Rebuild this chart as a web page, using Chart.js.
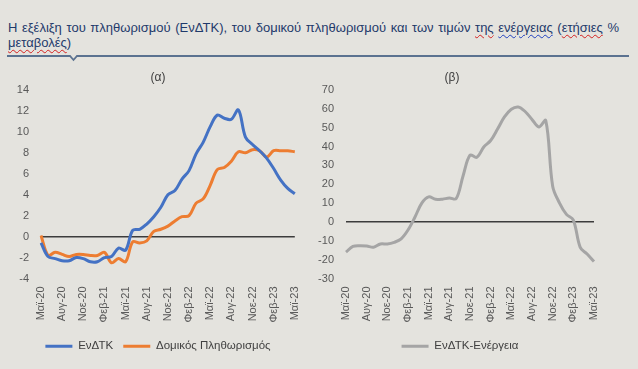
<!DOCTYPE html>
<html lang="el">
<head>
  <meta charset="UTF-8">
  <title>Πληθωρισμός και ενέργεια</title>
  <script src="https://cdn.jsdelivr.net/npm/chart.js"></script>
  <style>
    body { margin: 0; background: #e4e3de; font-family: "Liberation Sans", Arial, sans-serif; }
    #page { position: relative; width: 638px; height: 369px; overflow: hidden; background: #e4e3de; }
    .heading { position: absolute; left: 8px; top: 20px; font-size: 13px; word-spacing: 1px; line-height: 15px; color: #1f3a6b; white-space: nowrap; }
    .sq { text-decoration: underline wavy #d42020; text-decoration-thickness: 1px; text-underline-offset: 2px; }
    .sq.b { text-decoration-color: #2040c0; }
    .rule { position: absolute; left: 0; top: 50px; }
    .box { position: absolute; top: 62px; }
  </style>
</head>
<body>
<div id="page">
  <div class="heading">
    Η εξέλιξη του πληθωρισμού (ΕνΔΤΚ), του δομικού πληθωρισμού και των τιμών <span class="sq">της</span> <span class="sq b">ενέργειας</span> (<span class="sq">ετήσιες</span> %<br><span class="sq">μεταβολές</span>)
  </div>
  <svg class="rule" width="638" height="14">
    <polyline points="7,6 70,6 73.5,10 77,6 629,6" fill="none" stroke="#5b7290" stroke-width="1.8"/>
  </svg>
  <div class="box" style="left:0px"><canvas id="chartA" width="316" height="300"></canvas></div>
  <div class="box" style="left:310px"><canvas id="chartB" width="320" height="300"></canvas></div>
</div>

<script>
  // monthly, Μαϊ-20 .. Μαϊ-23
  const months = [
    "Μαϊ-20", "Ιουν-20", "Ιουλ-20", "Αυγ-20", "Σεπ-20", "Οκτ-20", "Νοε-20", "Δεκ-20",
    "Ιαν-21", "Φεβ-21", "Μαρ-21", "Απρ-21", "Μαϊ-21", "Ιουν-21", "Ιουλ-21", "Αυγ-21",
    "Σεπ-21", "Οκτ-21", "Νοε-21", "Δεκ-21", "Ιαν-22", "Φεβ-22", "Μαρ-22", "Απρ-22",
    "Μαϊ-22", "Ιουν-22", "Ιουλ-22", "Αυγ-22", "Σεπ-22", "Οκτ-22", "Νοε-22", "Δεκ-22",
    "Ιαν-23", "Φεβ-23", "Μαρ-23", "Απρ-23", "Μαϊ-23"
  ];

  const hicp = [
    -0.6, -1.9, -2.1, -2.3, -2.3, -2.0, -2.1, -2.4,
    -2.4, -2.0, -1.9, -1.1, -1.3, 0.6, 0.7, 1.2,
    1.9, 2.8, 4.0, 4.4, 5.5, 6.3, 7.9, 9.0,
    10.5, 11.6, 11.3, 11.2, 12.1, 9.5, 8.8, 8.2,
    7.5, 6.5, 5.4, 4.6, 4.1
  ];

  const core = [
    0.1, -1.8, -1.5, -1.7, -1.9, -1.7, -1.7, -1.8,
    -1.8, -1.5, -2.5, -2.1, -2.4, -0.5, -0.6, -0.4,
    0.5, 0.7, 1.0, 1.5, 1.9, 2.0, 3.2, 3.6,
    4.9, 6.4, 6.6, 7.2, 8.1, 8.0, 8.3, 8.2,
    7.6, 8.2, 8.2, 8.2, 8.1
  ];

  const energy = [
    -16.0, -13.0, -12.6, -12.8, -13.4, -11.7, -11.7, -10.8,
    -9.0, -4.3, 2.5, 10.0, 13.3, 12.0, 12.1, 12.7,
    12.4, 24.5, 35.4, 34.3, 39.8, 43.2, 49.3, 55.7,
    59.8, 61.0, 58.6, 54.4, 50.4, 53.8, 19.0, 10.0,
    4.0, 1.0, -13.5, -17.0, -21.0
  ];

  const ticksA = { min: -4, max: 14, step: 2 };
  const ticksB = { min: -30, max: 70, step: 10 };

  Chart.defaults.font.family = "'Liberation Sans', Arial, sans-serif";
  Chart.defaults.animation = false;

  // nudge the legend sideways so it sits under the plot like the original
  const legendShift = {
    id: 'legendShift',
    afterLayout(chart, args, opts) {
      const l = chart.legend;
      if (!l || !opts.dx) return;
      l.left += opts.dx;
      l.right += opts.dx;
    }
  };

  function lineSet(label, data, color) {
    return {
      label: label,
      data: data,
      borderColor: color,
      backgroundColor: color,
      borderWidth: 3,
      pointRadius: 0,
      tension: 0.35,
      fill: false
    };
  }

  function makeOptions(title, t, axisWidth, padR, dx) {
    return {
      responsive: false,
      layout: { padding: { right: padR } },
      plugins: {
        title: {
          display: true,
          text: title,
          color: '#404040',
          font: { size: 12, weight: 'normal' },
          padding: { top: 8, bottom: 5.6 }
        },
        legend: {
          position: 'bottom',
          labels: {
            usePointStyle: true,
            pointStyle: 'line',
            pointStyleWidth: 27,
            color: '#404040',
            font: { size: 11.5 },
            padding: 10
          }
        },
        legendShift: { dx: dx },
        tooltip: { enabled: false }
      },
      scales: {
        x: {
          offset: false,
          grid: { display: false, drawTicks: false },
          border: { display: false },
          ticks: {
            autoSkip: false,
            minRotation: 90,
            maxRotation: 90,
            padding: 8,
            color: '#595959',
            font: { size: 11 },
            callback: function (v, i) { return i % 3 === 0 ? this.getLabelForValue(v) : ''; }
          },
          afterFit: s => { s.height = 52; }
        },
        y: {
          min: t.min,
          max: t.max,
          border: { display: false },
          grid: {
            drawTicks: false,
            lineWidth: 1.4,
            color: c => c.tick.value === 0 ? '#3c3c3c' : 'rgba(0,0,0,0)'
          },
          ticks: { stepSize: t.step, padding: 12, color: '#595959', font: { size: 11 } },
          afterFit: s => { s.width = axisWidth; }
        }
      }
    };
  }

  new Chart(document.getElementById('chartA'), {
    type: 'line',
    data: {
      labels: months,
      datasets: [
        lineSet('ΕνΔΤΚ', hicp, '#4472c4'),
        lineSet('Δομικός Πληθωρισμός', core, '#ed7d31')
      ]
    },
    options: makeOptions('(α)', ticksA, 41, 0, 0),
    plugins: [legendShift]
  });

  new Chart(document.getElementById('chartB'), {
    type: 'line',
    data: {
      labels: months,
      datasets: [lineSet('ΕνΔΤΚ-Ενέργεια', energy, '#a5a5a5')]
    },
    options: makeOptions('(β)', ticksB, 36, 36, 8),
    plugins: [legendShift]
  });
</script>
</body>
</html>
